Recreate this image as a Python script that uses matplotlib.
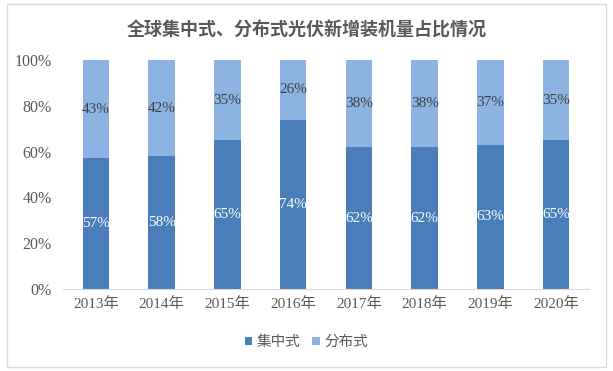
import matplotlib
matplotlib.use("Agg")
import matplotlib.pyplot as plt
from matplotlib.patches import Rectangle

years = ["2013年", "2014年", "2015年", "2016年", "2017年", "2018年", "2019年", "2020年"]
centralized = [57, 58, 65, 74, 62, 62, 63, 65]
distributed = [43, 42, 35, 26, 38, 38, 37, 35]

serif = ["Liberation Serif", "Noto Sans CJK SC"]
dark = "#4a7ebb"
light = "#8db3e2"

fig = plt.figure(figsize=(6.13, 3.71), dpi=100)
fig.patches.append(Rectangle((0.012, 0.012), 0.976, 0.976, transform=fig.transFigure,
                             fill=False, edgecolor="#d9d9d9", linewidth=1.0))
ax = fig.add_axes([63/613, 1-289/371, 526/613, 229/371])

x = range(len(years))
b1 = ax.bar(x, centralized, width=0.4, color=dark)
b2 = ax.bar(x, distributed, width=0.4, bottom=centralized, color=light)

for i, (c, d) in enumerate(zip(centralized, distributed)):
    ax.text(i, c/2, f"{c}%", ha="center", va="center", color="white", fontsize=11, family=serif)
    ax.text(i, c + d/2, f"{d}%", ha="center", va="center", color="#404040", fontsize=11, family=serif)

ax.set_xlim(-0.5, len(years)-0.5)
ax.set_ylim(0, 100)
ax.set_yticks([0, 20, 40, 60, 80, 100])
ax.set_yticklabels([f"{v}%" for v in [0, 20, 40, 60, 80, 100]], family=serif, fontsize=11.5, color="#595959")
ax.set_xticks(list(x))
ax.set_xticklabels(years, family=serif, fontsize=11, color="#595959")
for s in ["top", "right", "left"]:
    ax.spines[s].set_visible(False)
ax.spines["bottom"].set_color("#d9d9d9")
ax.tick_params(axis="both", length=0)
ax.tick_params(axis="x", pad=6)
ax.tick_params(axis="y", pad=8)

fig.text(0.5, 1-30/371, "全球集中式、分布式光伏新增装机量占比情况", ha="center", va="center",
         fontsize=13, fontweight="bold", color="#595959", family=["Noto Sans CJK SC"])

leg = fig.legend([b1, b2], ["集中式", "分布式"], loc="center", bbox_to_anchor=(0.5, 1-342/371),
                 ncol=2, frameon=False, prop={"family": ["Noto Sans CJK SC"], "size": 10.5},
                 handlelength=0.5, handleheight=0.5, handletextpad=0.3, columnspacing=0.8)
for t in leg.get_texts():
    t.set_color("#595959")

fig.savefig("out.png", dpi=100)
